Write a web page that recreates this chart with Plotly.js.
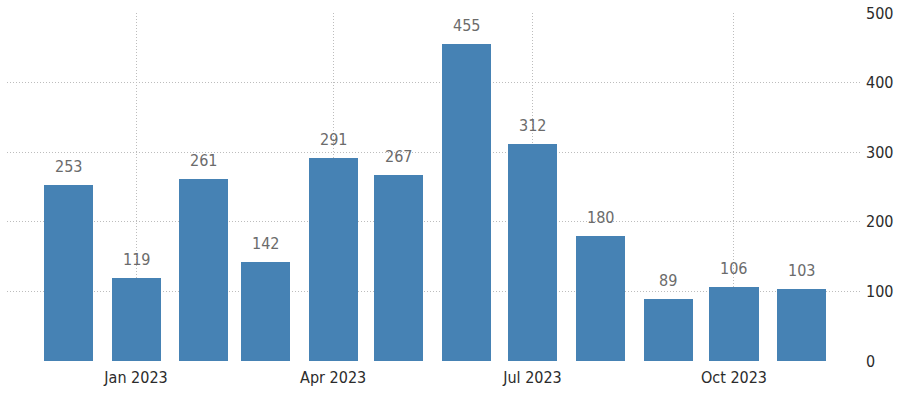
<!DOCTYPE html>
<html>
<head>
<meta charset="utf-8">
<script src="https://cdn.plot.ly/plotly-3.0.1.min.js"></script>
<style>html,body{margin:0;padding:0;background:#fff;}#chart{width:900px;height:394px;}</style>
</head>
<body>
<div id="chart"></div>
<script>
const months = ['2022-12-01','2023-01-01','2023-02-01','2023-03-01','2023-04-01','2023-05-01','2023-06-01','2023-07-01','2023-08-01','2023-09-01','2023-10-01','2023-11-01'];
const values = [253,119,261,142,291,267,455,312,180,89,106,103];
const xTickVals = ['2023-01-01','2023-04-01','2023-07-01','2023-10-01'];
const xTickText = ['Jan 2023','Apr 2023','Jul 2023','Oct 2023'];
const yTickVals = [0,100,200,300,400,500];

const FONT = '"DejaVu Sans Condensed", "DejaVu Sans", sans-serif';
const DAY = 86400000;
const trace = {
  type: 'bar',
  x: months,
  y: values,
  width: months.map(() => 22.4 * DAY),
  marker: {color: '#4682b4'},
  hoverinfo: 'x+y'
};
const annotations = months.map((m, i) => ({
  x: m, y: values[i], xref: 'x', yref: 'y',
  text: String(values[i]), showarrow: false,
  yanchor: 'bottom', yshift: 7,
  font: {family: FONT, size: 16, color: '#6b6b6b'}
}));
const layout = {
  width: 900, height: 394,
  margin: {l: 7, r: 40, t: 13, b: 33},
  paper_bgcolor: '#ffffff', plot_bgcolor: '#ffffff',
  showlegend: false,
  bargap: 0,
  annotations: annotations,
  xaxis: {
    type: 'date',
    range: ['2022-11-03 02:00', '2023-11-27 13:00'],
    tickmode: 'array', tickvals: xTickVals, ticktext: xTickText,
    showgrid: true, gridcolor: '#bdbdbd', griddash: '1px,2px', gridwidth: 1,
    zeroline: false, showline: false, ticks: '',
    ticklabelstandoff: 5,
    tickfont: {family: FONT, size: 16, color: '#2b2b2b'}
  },
  yaxis: {
    side: 'right',
    range: [0, 500],
    tickmode: 'array', tickvals: yTickVals,
    showgrid: true, gridcolor: '#bdbdbd', griddash: '1px,2px', gridwidth: 1,
    zeroline: false, showline: false, ticks: '',
    ticklabelstandoff: 5,
    tickfont: {family: FONT, size: 16, color: '#2b2b2b'}
  }
};
Plotly.newPlot('chart', [trace], layout, {displayModeBar: false, staticPlot: true});
</script>
</body>
</html>
